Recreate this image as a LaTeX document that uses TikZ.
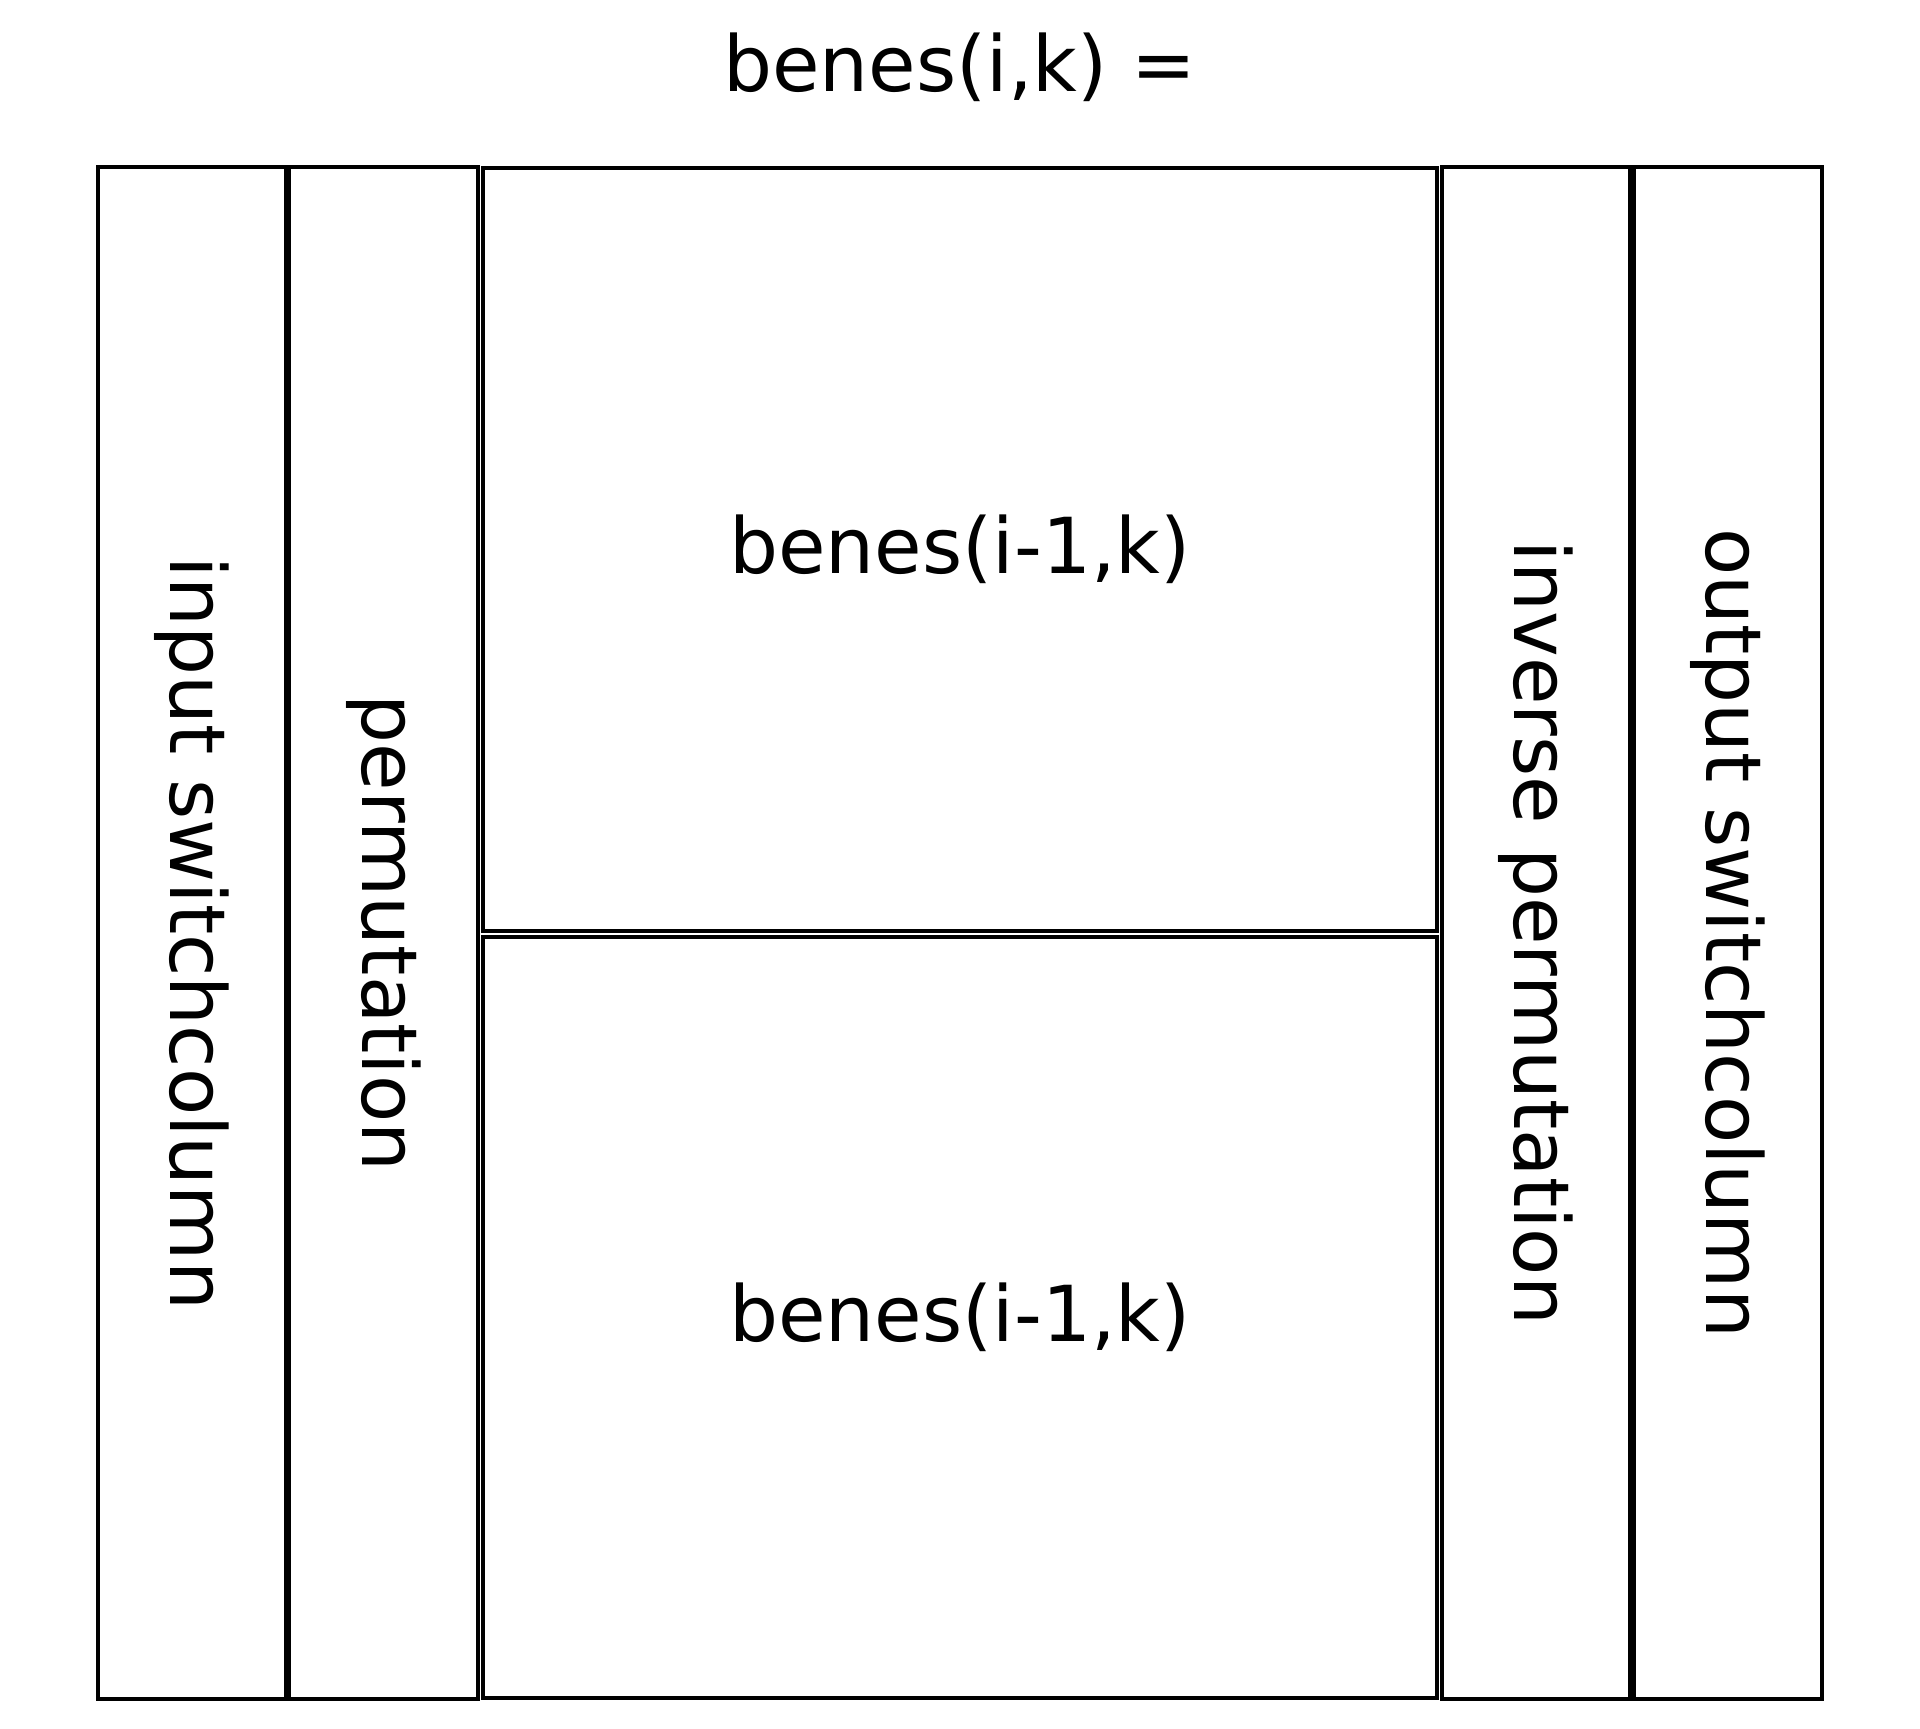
\documentclass[tikz,border=0pt]{standalone}
\usepackage{fontspec}
\setmainfont{DejaVu Sans}
\begin{document}
\begin{tikzpicture}[x=0.5pt,y=-0.5pt,
  box/.style={draw=black, line width=2pt, inner sep=0pt, outer sep=0pt},
  lbl/.style={font=\fontsize{38.6}{46}\selectfont, inner sep=0pt}]
\useasboundingbox[fill=white] (0,0) rectangle (1920,1728);
\node[lbl, anchor=base] (title) at (960,92) {benes(i,k) =};
\node[box, minimum width=94pt, minimum height=766pt] (b1) at (192,933) {};
\node[box, minimum width=94.5pt, minimum height=766pt] (b2) at (383.5,933) {};
\node[box, minimum width=477pt, minimum height=381.5pt] (b3) at (960,549.5) {};
\node[box, minimum width=477pt, minimum height=380.5pt] (b4) at (960,1317.5) {};
\node[box, minimum width=94pt, minimum height=766pt] (b5) at (1536,933) {};
\node[box, minimum width=94pt, minimum height=766pt] (b6) at (1728,933) {};
\node[lbl, rotate=-90] (t1) at (b1.center) {input switchcolumn};
\node[lbl, rotate=-90] (t2) at (b2.center) {permutation};
\node[lbl] (t3) at (b3.center) {benes(i-1,k)};
\node[lbl] (t4) at (b4.center) {benes(i-1,k)};
\node[lbl, rotate=-90] (t5) at (b5.center) {inverse permutation};
\node[lbl, rotate=-90] (t6) at (b6.center) {output switchcolumn};
\end{tikzpicture}
\end{document}
